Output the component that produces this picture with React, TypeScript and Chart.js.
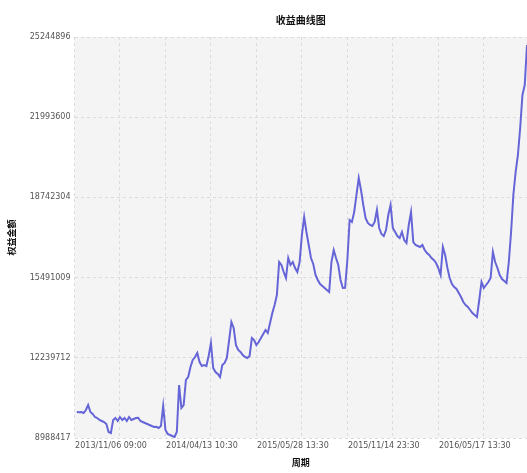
import React, { useEffect, useRef } from 'react';
import { Chart, registerables } from 'chart.js';

Chart.register(...registerables);

const TITLE = '收益曲线图';
const X_TITLE = '周期';
const Y_TITLE = '权益金额';

const xGridPositions = [0, 20, 40, 60, 80, 100, 120, 140, 160, 180];
const xLabelPositions = [20, 60, 100, 140, 180];
const xLabels = ['2013/11/06 09:00', '2014/04/13 10:30', '2015/05/28 13:30', '2015/11/14 23:30', '2016/05/17 13:30'];

const yTickValues = [8988417, 12239712, 15491009, 18742304, 21993600, 25244896];

const equity = [
  10042000, 10035000, 10040000, 10002000, 10124000, 10326000, 10042000, 9961000, 9840000, 9799000,
  9718000, 9678000, 9637000, 9556000, 9232000, 9190000, 9718000, 9799000, 9678000, 9840000,
  9718000, 9799000, 9678000, 9840000, 9718000, 9759000, 9799000, 9810000, 9678000, 9637000,
  9597000, 9556000, 9515000, 9475000, 9434000, 9440000, 9394000, 9475000, 10286000, 9313000,
  9151000, 9110000, 9069000, 9029000, 9232000, 11137000, 10205000, 10326000, 11340000, 11461000,
  11867000, 12151000, 12272000, 12434000, 12069000, 11907000, 11948000, 11907000, 12313000, 12840000,
  11826000, 11664000, 11583000, 11461000, 11948000, 12029000, 12232000, 12961000, 13691000, 13448000,
  12759000, 12556000, 12475000, 12353000, 12272000, 12232000, 12313000, 13042000, 12961000, 12759000,
  12880000, 13042000, 13205000, 13367000, 13245000, 13651000, 14056000, 14380000, 14786000, 16123000,
  16002000, 15718000, 15475000, 16286000, 16002000, 16123000, 15880000, 15718000, 16123000, 17218000,
  17948000, 17340000, 16813000, 16286000, 16042000, 15596000, 15394000, 15232000, 15150000, 15069000,
  14988000, 14907000, 16123000, 16610000, 16286000, 16002000, 15394000, 15069000, 15080000, 16205000,
  17826000, 17745000, 18150000, 18840000, 19529000, 19042000, 18434000, 17907000, 17705000, 17623000,
  17583000, 17745000, 18232000, 17502000, 17259000, 17177000, 17421000, 18029000, 18434000, 17502000,
  17340000, 17177000, 17096000, 17340000, 17015000, 16894000, 17623000, 18150000, 16934000, 16813000,
  16772000, 16732000, 16813000, 16610000, 16488000, 16407000, 16286000, 16205000, 16083000, 15880000,
  15596000, 16732000, 16407000, 15880000, 15475000, 15232000, 15110000, 15029000, 14867000, 14705000,
  14502000, 14380000, 14299000, 14178000, 14056000, 13975000, 13894000, 14583000, 15313000, 15069000,
  15191000, 15313000, 15475000, 16529000, 16123000, 15880000, 15596000, 15434000, 15353000, 15272000,
  16123000, 17340000, 18840000, 19772000, 20461000, 21556000, 22894000, 23299000, 24921000,
];

const X_MAX = 199;

const plotBg = {
  id: 'plotBg',
  beforeDraw(chart: any) {
    const { ctx, chartArea } = chart;
    if (!chartArea) return;
    ctx.save();
    ctx.fillStyle = '#f4f4f5';
    ctx.fillRect(chartArea.left, chartArea.top, chartArea.right - chartArea.left, chartArea.bottom - chartArea.top);
    ctx.restore();
  },
};

export default function App() {
  const ref = useRef<HTMLCanvasElement | null>(null);

  useEffect(() => {
    if (!ref.current) return;
    const points = equity.map((v, i) => ({ x: i + 1, y: v }));
    const chart = new Chart(ref.current, {
      type: 'line',
      data: {
        datasets: [
          {
            data: points,
            borderColor: '#6565d8',
            borderWidth: 2,
            pointRadius: 0,
            tension: 0,
            fill: false,
          },
        ],
      },
      options: {
        responsive: false,
        animation: false,
        events: [],
        layout: { padding: { left: 0, right: 0, top: 0, bottom: 0 } },
        plugins: {
          legend: { display: false },
          tooltip: { enabled: false },
          title: {
            display: true,
            text: TITLE,
            fullSize: false,
            color: '#111',
            font: { family: '"Noto Sans CJK SC", "DejaVu Sans", sans-serif', size: 10, weight: 'bold' },
            padding: { top: 14, bottom: 11 },
          },
        },
        scales: {
          x: {
            type: 'linear',
            min: 0,
            max: X_MAX,
            afterBuildTicks: (scale: any) => {
              scale.ticks = xGridPositions.map((v) => ({ value: v }));
            },
            afterFit: (scale: any) => {
              scale.height = 35;
            },
            ticks: {
              autoSkip: false,
              maxRotation: 0,
              minRotation: 0,
              padding: 3,
              labelOffset: -9,
              color: '#555',
              font: { family: '"DejaVu Sans", sans-serif', size: 8 },
              callback: (value: any) => {
                const k = xLabelPositions.indexOf(Number(value));
                return k >= 0 ? xLabels[k] : '';
              },
            },
            grid: {
              color: '#dcdcdc',
              lineWidth: 1,
              drawTicks: false,
            },
            border: { display: false, dash: [3, 3] },
            title: {
              display: true,
              text: X_TITLE,
              color: '#111',
              font: { family: '"Noto Sans CJK SC", "DejaVu Sans", sans-serif', size: 9, weight: 'bold' },
              padding: { top: 0, bottom: 5 },
            },
          },
          y: {
            type: 'linear',
            min: yTickValues[0],
            max: yTickValues[yTickValues.length - 1],
            afterBuildTicks: (scale: any) => {
              scale.ticks = yTickValues.map((v) => ({ value: v }));
            },
            afterFit: (scale: any) => {
              scale.width = 74.5;
            },
            ticks: {
              autoSkip: false,
              padding: 4,
              color: '#555',
              font: { family: '"DejaVu Sans", sans-serif', size: 8 },
              callback: (value: any) => String(value),
            },
            grid: {
              color: '#dcdcdc',
              lineWidth: 1,
              drawTicks: false,
            },
            border: { display: false, dash: [3, 3] },
            title: {
              display: true,
              text: Y_TITLE,
              color: '#111',
              font: { family: '"Noto Sans CJK SC", "DejaVu Sans", sans-serif', size: 9, weight: 'bold' },
              padding: { top: 6, bottom: 0 },
            },
          },
        },
      },
      plugins: [plotBg],
    } as any);
    return () => chart.destroy();
  }, []);

  return (
    <div style={{ position: 'absolute', left: 0, top: 0, width: 527, height: 473, background: '#fff' }}>
      <canvas ref={ref} width={527} height={473} style={{ display: 'block', width: 527, height: 473 }} />
    </div>
  );
}
